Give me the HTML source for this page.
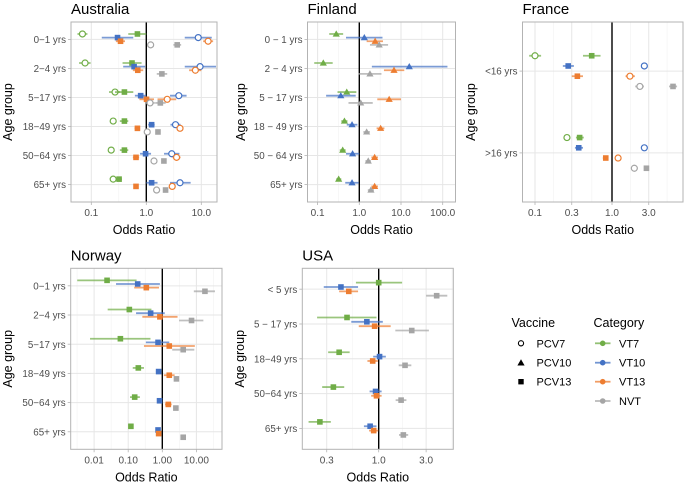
<!DOCTYPE html>
<html><head><meta charset="utf-8">
<style>
html,body{margin:0;padding:0;background:#fff;}
svg{display:block;font-family:"Liberation Sans",Arial,sans-serif;}
</style></head>
<body>
<svg id="chart" width="685" height="484" viewBox="0 0 685 484" xmlns="http://www.w3.org/2000/svg">
<g id="legend">
  <text x="511.5" y="327" font-size="12.5" fill="#000">Vaccine</text>
  <g><circle cx="521" cy="343.3" r="2.6" fill="#fff" stroke="#000" stroke-width="1.1"/><text x="536.5" y="347.3" font-size="11" fill="#000">PCV7</text></g>
  <g><path d="M521,359.2 L524.6,365.5 L517.4,365.5 Z" fill="#000"/><text x="536.5" y="366.7" font-size="11" fill="#000">PCV10</text></g>
  <g><rect x="518.3" y="379" width="5.4" height="5.4" fill="#000"/><text x="536.5" y="385.7" font-size="11" fill="#000">PCV13</text></g>
  <text x="593.5" y="327" font-size="12.5" fill="#000">Category</text>
  <g><line x1="595" x2="610.5" y1="343.3" y2="343.3" stroke="#70AD47" stroke-width="1.8" opacity="0.75"/><circle cx="602.7" cy="343.3" r="2.8" fill="#70AD47"/><text x="619" y="347.3" font-size="11" fill="#000">VT7</text></g>
  <g><line x1="595" x2="610.5" y1="362.7" y2="362.7" stroke="#4472C4" stroke-width="1.8" opacity="0.75"/><circle cx="602.7" cy="362.7" r="2.8" fill="#4472C4"/><text x="619" y="366.7" font-size="11" fill="#000">VT10</text></g>
  <g><line x1="595" x2="610.5" y1="381.7" y2="381.7" stroke="#ED7D31" stroke-width="1.8" opacity="0.75"/><circle cx="602.7" cy="381.7" r="2.8" fill="#ED7D31"/><text x="619" y="385.7" font-size="11" fill="#000">VT13</text></g>
  <g><line x1="595" x2="610.5" y1="401" y2="401" stroke="#A5A5A5" stroke-width="1.8" opacity="0.75"/><circle cx="602.7" cy="401" r="2.8" fill="#A5A5A5"/><text x="619" y="405" font-size="11" fill="#000">NVT</text></g>
</g>
</svg>
<script>
// ---- data ----
const categories = ["VT7","VT10","VT13","NVT"];
const vaccines = ["PCV7","PCV10","PCV13"];

const australiaGroups = ["0\u22121 yrs","2\u22124 yrs","5\u221217 yrs","18\u221249 yrs","50\u221264 yrs","65+ yrs"];
const australiaTicks = [0.1, 1, 10];
const australiaTickLabels = ["0.1","1.0","10.0"];
// [group, category, vaccine, estimate, lower, upper]
const australiaRows = [
 [0,"VT7","PCV7",0.069,0.056,0.085],[0,"VT7","PCV13",0.69,0.47,1.0],
 [0,"VT10","PCV7",8.8,5.0,15.5],[0,"VT10","PCV13",0.30,0.155,0.58],
 [0,"VT13","PCV7",13.3,10.8,16.4],[0,"VT13","PCV13",0.34,0.28,0.41],
 [0,"NVT","PCV7",1.2,1.05,1.35],[0,"NVT","PCV13",3.65,3.1,4.3],
 [1,"VT7","PCV7",0.077,0.060,0.097],[1,"VT7","PCV13",0.55,0.37,0.82],
 [1,"VT10","PCV7",9.5,5.0,18.5],[1,"VT10","PCV13",0.60,0.38,0.95],
 [1,"VT13","PCV7",7.8,6.0,10.0],[1,"VT13","PCV13",0.70,0.57,0.88],
 [1,"NVT","PCV13",1.92,1.55,2.4],
 [2,"VT7","PCV7",0.27,0.21,0.33],[2,"VT7","PCV13",0.40,0.27,0.58],
 [2,"VT10","PCV7",3.9,2.7,5.4],[2,"VT10","PCV13",0.79,0.62,1.0],
 [2,"VT13","PCV7",2.4,1.6,3.5],[2,"VT13","PCV13",1.01,0.75,1.38],
 [2,"NVT","PCV7",1.17,0.95,1.43],[2,"NVT","PCV13",1.8,1.45,2.25],
 [3,"VT7","PCV7",0.25,0.23,0.27],[3,"VT7","PCV13",0.40,0.33,0.47],
 [3,"VT10","PCV7",3.4,2.75,4.2],[3,"VT10","PCV13",1.25,1.08,1.42],
 [3,"VT13","PCV7",4.1,3.55,4.7],[3,"VT13","PCV13",0.69,0.61,0.77],
 [3,"NVT","PCV7",1.04,0.98,1.1],[3,"NVT","PCV13",1.63,1.5,1.75],
 [4,"VT7","PCV7",0.23,0.21,0.25],[4,"VT7","PCV13",0.40,0.33,0.47],
 [4,"VT10","PCV7",2.9,2.1,4.0],[4,"VT10","PCV13",0.97,0.77,1.22],
 [4,"VT13","PCV7",3.55,3.0,4.2],[4,"VT13","PCV13",0.65,0.57,0.74],
 [4,"NVT","PCV7",1.38,1.28,1.48],[4,"NVT","PCV13",2.09,1.93,2.25],
 [5,"VT7","PCV7",0.25,0.23,0.27],[5,"VT7","PCV13",0.32,0.28,0.36],
 [5,"VT10","PCV7",4.1,2.7,6.4],[5,"VT10","PCV13",1.25,1.0,1.6],
 [5,"VT13","PCV7",2.96,2.6,3.3],[5,"VT13","PCV13",0.65,0.6,0.71],
 [5,"NVT","PCV7",1.54,1.45,1.64],[5,"NVT","PCV13",2.24,2.1,2.4]
];

const finlandGroups = ["0 \u2212 1 yrs","2 \u2212 4 yrs","5 \u2212 17 yrs","18 \u2212 49 yrs","50 \u2212 64 yrs","65+ yrs"];
const finlandTicks = [0.1, 1, 10, 100];
const finlandTickLabels = ["0.1","1.0","10.0","100.0"];
const finlandRows = [
 [0,"VT7","PCV10",0.28,0.19,0.41],[0,"VT10","PCV10",1.32,0.48,3.6],[0,"VT13","PCV10",2.4,1.5,3.7],[0,"NVT","PCV10",3.0,1.8,4.9],
 [1,"VT7","PCV10",0.137,0.083,0.23],[1,"VT10","PCV10",15.8,2.0,130],[1,"VT13","PCV10",6.8,3.9,12],[1,"NVT","PCV10",1.8,0.95,3.4],
 [2,"VT7","PCV10",0.50,0.30,0.85],[2,"VT10","PCV10",0.36,0.16,0.82],[2,"VT13","PCV10",5.2,2.7,10],[2,"NVT","PCV10",1.08,0.55,2.1],
 [3,"VT7","PCV10",0.44,0.37,0.52],[3,"VT10","PCV10",0.67,0.50,0.90],[3,"VT13","PCV10",3.25,2.6,4.0],[3,"NVT","PCV10",1.5,1.25,1.8],
 [4,"VT7","PCV10",0.40,0.34,0.47],[4,"VT10","PCV10",0.69,0.48,1.0],[4,"VT13","PCV10",2.33,1.95,2.8],[4,"NVT","PCV10",1.64,1.4,1.9],
 [5,"VT7","PCV10",0.32,0.28,0.37],[5,"VT10","PCV10",0.67,0.46,0.97],[5,"VT13","PCV10",2.33,1.95,2.8],[5,"NVT","PCV10",1.9,1.6,2.25]
];

const franceGroups = ["<16 yrs",">16 yrs"];
const franceTicks = [0.1, 0.3, 1, 3];
const franceTickLabels = ["0.1","0.3","1.0","3.0"];
const franceRows = [
 [0,"VT7","PCV7",0.10,0.084,0.12],[0,"VT7","PCV13",0.545,0.42,0.71],
 [0,"VT10","PCV7",2.63,2.4,2.9],[0,"VT10","PCV13",0.27,0.23,0.32],
 [0,"VT13","PCV7",1.71,1.5,1.98],[0,"VT13","PCV13",0.355,0.3,0.42],
 [0,"NVT","PCV7",2.3,2.0,2.6],[0,"NVT","PCV13",6.2,5.5,7.0],
 [1,"VT7","PCV7",0.26,0.24,0.28],[1,"VT7","PCV13",0.38,0.34,0.43],
 [1,"VT10","PCV7",2.63,2.4,2.9],[1,"VT10","PCV13",0.37,0.33,0.42],
 [1,"VT13","PCV7",1.2,1.1,1.32],[1,"VT13","PCV13",0.83,0.76,0.9],
 [1,"NVT","PCV7",1.95,1.8,2.1],[1,"NVT","PCV13",2.8,2.6,3.0]
];

const norwayGroups = ["0\u22121 yrs","2\u22124 yrs","5\u221217 yrs","18\u221249 yrs","50\u221264 yrs","65+ yrs"];
const norwayTicks = [0.01, 0.1, 1, 10];
const norwayTickLabels = ["0.01","0.10","1.00","10.00"];
const norwayRows = [
 [0,"VT7","PCV13",0.024,0.0032,0.176],[0,"VT10","PCV13",0.19,0.044,0.85],[0,"VT13","PCV13",0.34,0.15,0.80],[0,"NVT","PCV13",17.8,8.4,35],
 [1,"VT7","PCV13",0.108,0.025,0.48],[1,"VT10","PCV13",0.455,0.17,1.18],[1,"VT13","PCV13",0.85,0.26,2.8],[1,"NVT","PCV13",7.2,3.1,16],
 [2,"VT7","PCV13",0.059,0.0076,0.45],[2,"VT10","PCV13",0.75,0.33,1.6],[2,"VT13","PCV13",1.6,0.29,9.0],[2,"NVT","PCV13",4.1,1.95,8.7],
 [3,"VT7","PCV13",0.198,0.136,0.29],[3,"VT10","PCV13",0.78,0.65,0.93],[3,"VT13","PCV13",1.6,1.11,2.3],[3,"NVT","PCV13",2.6,2.3,2.9],
 [4,"VT7","PCV13",0.155,0.113,0.22],[4,"VT10","PCV13",0.83,0.72,0.95],[4,"VT13","PCV13",1.5,1.2,1.88],[4,"NVT","PCV13",2.5,2.2,2.8],
 [5,"VT7","PCV13",0.12,0.105,0.138],[5,"VT10","PCV13",0.75,0.66,0.85],[5,"VT13","PCV13",0.78,0.72,0.84],[5,"NVT","PCV13",4.1,3.8,4.4]
];

const usaGroups = ["< 5 yrs","5 \u2212 17 yrs","18\u221249 yrs","50\u221264 yrs","65+ yrs"];
const usaTicks = [0.3, 1, 3];
const usaTickLabels = ["0.3","1.0","3.0"];
const usaRows = [
 [0,"VT7","PCV13",1.0,0.59,1.72],[0,"VT10","PCV13",0.417,0.28,0.62],[0,"VT13","PCV13",0.50,0.40,0.62],[0,"NVT","PCV13",3.83,3.0,4.9],
 [1,"VT7","PCV13",0.48,0.24,0.95],[1,"VT10","PCV13",0.76,0.53,1.1],[1,"VT13","PCV13",0.91,0.63,1.32],[1,"NVT","PCV13",2.15,1.47,3.2],
 [2,"VT7","PCV13",0.40,0.31,0.51],[2,"VT10","PCV13",1.02,0.88,1.18],[2,"VT13","PCV13",0.87,0.77,0.98],[2,"NVT","PCV13",1.84,1.59,2.13],
 [3,"VT7","PCV13",0.35,0.27,0.45],[3,"VT10","PCV13",0.93,0.81,1.07],[3,"VT13","PCV13",0.95,0.84,1.07],[3,"NVT","PCV13",1.68,1.48,1.9],
 [4,"VT7","PCV13",0.256,0.197,0.33],[4,"VT10","PCV13",0.82,0.71,0.95],[4,"VT13","PCV13",0.89,0.80,0.99],[4,"NVT","PCV13",1.77,1.6,1.98]
];

// ---- layout (not data) ----
const colors = {VT7:"#70AD47",VT10:"#4472C4",VT13:"#ED7D31",NVT:"#A5A5A5"};
const panels = [
 {id:"australia",title:"Australia",groups:australiaGroups,rows:australiaRows,ticks:australiaTicks,tickLabels:australiaTickLabels,
  left:71,right:217,top:22,bottom:202,x1:146.3,dec:55,ytitleX:8},
 {id:"finland",title:"Finland",groups:finlandGroups,rows:finlandRows,ticks:finlandTicks,tickLabels:finlandTickLabels,
  left:307.5,right:455.5,top:22,bottom:202,x1:359.3,dec:41.7,ytitleX:241},
 {id:"france",title:"France",groups:franceGroups,rows:franceRows,ticks:franceTicks,tickLabels:franceTickLabels,
  left:522.5,right:683,top:22,bottom:202,x1:612,dec:77,ytitleX:471},
 {id:"norway",title:"Norway",groups:norwayGroups,rows:norwayRows,ticks:norwayTicks,tickLabels:norwayTickLabels,
  left:70.7,right:222,top:268.3,bottom:449.3,x1:162.3,dec:34.1,ytitleX:8},
 {id:"usa",title:"USA",groups:usaGroups,rows:usaRows,ticks:usaTicks,tickLabels:usaTickLabels,
  left:302.3,right:453.3,top:268.3,bottom:449.3,x1:378.7,dec:99.4,ytitleX:240}
];
const dodge = {VT7:-0.1875,VT10:-0.0625,VT13:0.0625,NVT:0.1875};
const NS="http://www.w3.org/2000/svg";
const svg=document.getElementById("chart");
function mk(tag,attrs,parent){const e=document.createElementNS(NS,tag);for(const k in attrs)e.setAttribute(k,attrs[k]);parent.appendChild(e);return e;}

panels.forEach(p=>{
  const g=mk("g",{},svg);
  
  
  const xs=v=>p.x1+Math.log10(v)*p.dec;
  const n=p.groups.length, unit=(p.bottom-p.top)/(n-1+1.2);
  const ys=i=>p.top+(0.6+i)*unit;
  const lt=p.ticks.map(Math.log10);
  const step=lt.length>1?(lt[1]-lt[0]):1;
  const minors=[];
  for(let i=0;i<lt.length-1;i++)minors.push((lt[i]+lt[i+1])/2);
  minors.push(lt[0]-step/2, lt[lt.length-1]+step/2);
  minors.forEach(m=>{const x=p.x1+m*p.dec;if(x>p.left&&x<p.right){
    const l=mk("line",{x1:x,x2:x,y1:p.top,y2:p.bottom,stroke:"#f2f2f2","stroke-width":0.6},g);
    
    }});
  p.ticks.forEach((t,i)=>{const x=xs(t);
    const l=mk("line",{x1:x,x2:x,y1:p.top,y2:p.bottom,stroke:"#e6e6e6","stroke-width":1},g);
    
    
    mk("line",{x1:x,x2:x,y1:p.bottom,y2:p.bottom+3,stroke:"#b3b3b3","stroke-width":0.8},g);
    const tx=mk("text",{x:x,y:p.bottom+14,"font-size":"10","fill":"#4d4d4d","text-anchor":"middle"},g);
    tx.textContent=p.tickLabels[i];
    
    
  });
  p.groups.forEach((lab,i)=>{const y=ys(i);
    const l=mk("line",{x1:p.left,x2:p.right,y1:y,y2:y,stroke:"#e6e6e6","stroke-width":1},g);
    
    
    mk("line",{x1:p.left-3,x2:p.left,y1:y,y2:y,stroke:"#b3b3b3","stroke-width":0.8},g);
    const tx=mk("text",{x:p.left-5,y:y+3.6,"font-size":"9.8",fill:"#4d4d4d","text-anchor":"end"},g);
    tx.textContent=lab;
    
    
  });
  const ref=mk("line",{x1:xs(1),x2:xs(1),y1:p.top,y2:p.bottom,stroke:"#000","stroke-width":1.4},g);
  
  
  p.rows.forEach(r=>{
    const [gi,cat,vac,est,lo,hi]=r;
    const y=ys(gi)+dodge[cat]*unit, c=colors[cat], x=xs(est);
    const mg=mk("g",{},g);
    
    
    mk("line",{x1:Math.max(xs(lo),p.left),x2:Math.min(xs(hi),p.right),y1:y,y2:y,stroke:c,"stroke-width":1.8,opacity:0.7},mg);
    if(vac==="PCV7") mk("circle",{cx:x,cy:y,r:3,fill:"#fff",stroke:c,"stroke-width":1.2},mg);
    else if(vac==="PCV10") mk("path",{d:`M${x},${y-3.6} L${x+3.6},${y+2.6} L${x-3.6},${y+2.6} Z`,fill:c},mg);
    else mk("rect",{x:x-2.8,y:y-2.8,width:5.6,height:5.6,fill:c},mg);
  });
  const b=mk("rect",{x:p.left,y:p.top,width:p.right-p.left,height:p.bottom-p.top,fill:"none",stroke:"#b3b3b3","stroke-width":1},g);
  
  
  const t=mk("text",{x:p.left,y:p.top-8,"font-size":"15",fill:"#000"},g);
  t.textContent=p.title;
  
  
  const xt=mk("text",{x:(p.left+p.right)/2,y:p.bottom+32,"font-size":"12.5",fill:"#000","text-anchor":"middle"},g);
  xt.textContent="Odds Ratio";
  
  
  const cy=(p.top+p.bottom)/2;
  const yt=mk("text",{x:p.ytitleX,y:cy,"font-size":"12.5",fill:"#000","text-anchor":"middle",transform:`rotate(-90 ${p.ytitleX} ${cy}) translate(0 4)`},g);
  yt.textContent="Age group";
  
  
});
</script>
</body></html>
